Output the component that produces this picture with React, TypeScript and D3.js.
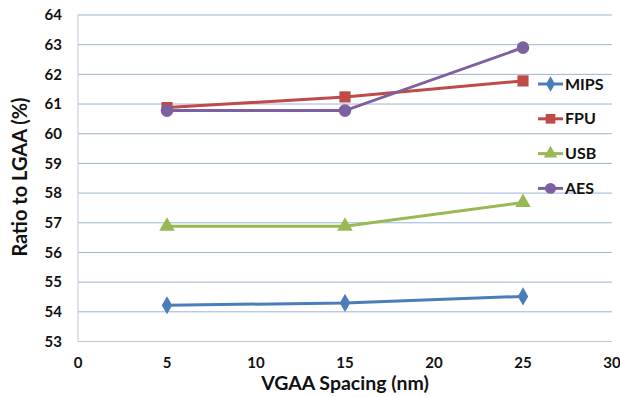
import * as React from "react";
import { useEffect, useRef } from "react";
import * as d3 from "d3";

const spacings = [5, 15, 25];
const seriesNames = ["MIPS", "FPU", "USB", "AES"];
const mipsValues = [54.22, 54.3, 54.52];
const fpuValues = [60.88, 61.24, 61.78];
const usbValues = [56.88, 56.88, 57.68];
const aesValues = [60.78, 60.78, 62.9];
const yTicks = [53, 54, 55, 56, 57, 58, 59, 60, 61, 62, 63, 64];
const xTicks = [0, 5, 10, 15, 20, 25, 30];

const colors = ["#4A7EBB", "#BE4B48", "#98B954", "#7D60A0"];
const symbols = [d3.symbolDiamond, d3.symbolSquare, d3.symbolTriangle, d3.symbolCircle];
const symbolSizes = [95, 125, 105, 125];

const FONT = "Lato, 'Open Sans', sans-serif";

const Chart: React.FC = () => {
  const svgRef = useRef<SVGSVGElement | null>(null);

  useEffect(() => {
    document.body.style.margin = "0";
    document.body.style.overflow = "hidden";

    const svg = d3.select(svgRef.current);
    svg.selectAll("*").remove();

    const width = 620;
    const height = 397;
    const left = 78;
    const right = 612;
    const top = 15;
    const bottom = 341.5;

    const x = d3.scaleLinear().domain([0, 30]).range([left, right]);
    const y = d3.scaleLinear().domain([53, 64]).range([bottom, top]);

    svg.append("rect").attr("width", width).attr("height", height).attr("fill", "#fff");

    // gridlines
    svg
      .append("g")
      .selectAll("line")
      .data(yTicks.slice(1))
      .join("line")
      .attr("x1", left)
      .attr("x2", right)
      .attr("y1", (d) => y(d))
      .attr("y2", (d) => y(d))
      .attr("stroke", "#9DB3D1")
      .attr("stroke-width", 1);

    // axes lines
    svg.append("line").attr("x1", left).attr("x2", left).attr("y1", top).attr("y2", bottom)
      .attr("stroke", "#BFC8D6").attr("stroke-width", 1);
    svg.append("line").attr("x1", left).attr("x2", right).attr("y1", bottom).attr("y2", bottom)
      .attr("stroke", "#BFC8D6").attr("stroke-width", 1);

    // tick labels
    svg
      .append("g")
      .selectAll("text")
      .data(yTicks)
      .join("text")
      .attr("x", 62)
      .attr("y", (d) => y(d))
      .attr("dy", "0.35em")
      .attr("text-anchor", "end")
      .attr("font-family", FONT)
      .attr("font-weight", "bold")
      .attr("font-size", 15)
      .attr("fill", "#111")
      .text((d) => d);

    svg
      .append("g")
      .selectAll("text")
      .data(xTicks)
      .join("text")
      .attr("x", (d) => x(d))
      .attr("y", 363)
      .attr("dy", "0.35em")
      .attr("text-anchor", "middle")
      .attr("font-family", FONT)
      .attr("font-weight", "bold")
      .attr("font-size", 15)
      .attr("fill", "#111")
      .text((d) => d);

    // axis titles
    svg
      .append("text")
      .attr("x", 345)
      .attr("y", 383)
      .attr("dy", "0.35em")
      .attr("text-anchor", "middle")
      .attr("font-family", FONT)
      .attr("font-weight", "bold")
      .attr("font-size", 19.5)
      .attr("fill", "#111")
      .text("VGAA Spacing (nm)");

    svg
      .append("text")
      .attr("transform", "translate(20,177) rotate(-90)")
      .attr("dy", "0.35em")
      .attr("text-anchor", "middle")
      .attr("font-family", FONT)
      .attr("font-weight", "bold")
      .attr("font-size", 20)
      .attr("fill", "#111")
      .text("Ratio to LGAA (%)");

    const allValues = [mipsValues, fpuValues, usbValues, aesValues];
    const line = d3
      .line<number>()
      .x((_, i) => x(spacings[i]))
      .y((d) => y(d));

    allValues.forEach((vals, s) => {
      const g = svg.append("g");
      g.append("path")
        .datum(vals)
        .attr("fill", "none")
        .attr("stroke", colors[s])
        .attr("stroke-width", 3)
        .attr("d", line);
      g.selectAll("path.m")
        .data(vals)
        .join("path")
        .attr("class", "m")
        .attr("transform", (d, i) => `translate(${x(spacings[i])},${y(d)})`)
        .attr("d", d3.symbol().type(symbols[s]).size(symbolSizes[s])())
        .attr("fill", colors[s]);
    });

    // legend
    const legend = svg.append("g");
    seriesNames.forEach((name, i) => {
      const ly = 84 + i * 34.8;
      legend.append("line")
        .attr("x1", 538).attr("x2", 563).attr("y1", ly).attr("y2", ly)
        .attr("stroke", colors[i]).attr("stroke-width", 3);
      legend.append("path")
        .attr("transform", `translate(550.5,${ly})`)
        .attr("d", d3.symbol().type(symbols[i]).size(symbolSizes[i] * 0.75)())
        .attr("fill", colors[i]);
      legend.append("text")
        .attr("x", 565)
        .attr("y", ly)
        .attr("dy", "0.35em")
        .attr("font-family", FONT)
        .attr("font-weight", "bold")
        .attr("font-size", 16)
        .attr("fill", "#111")
        .text(name);
    });
  }, []);

  return <svg ref={svgRef} width={620} height={397} style={{ display: "block" }}></svg>;
};

export default function App() {
  return <Chart />;
}
